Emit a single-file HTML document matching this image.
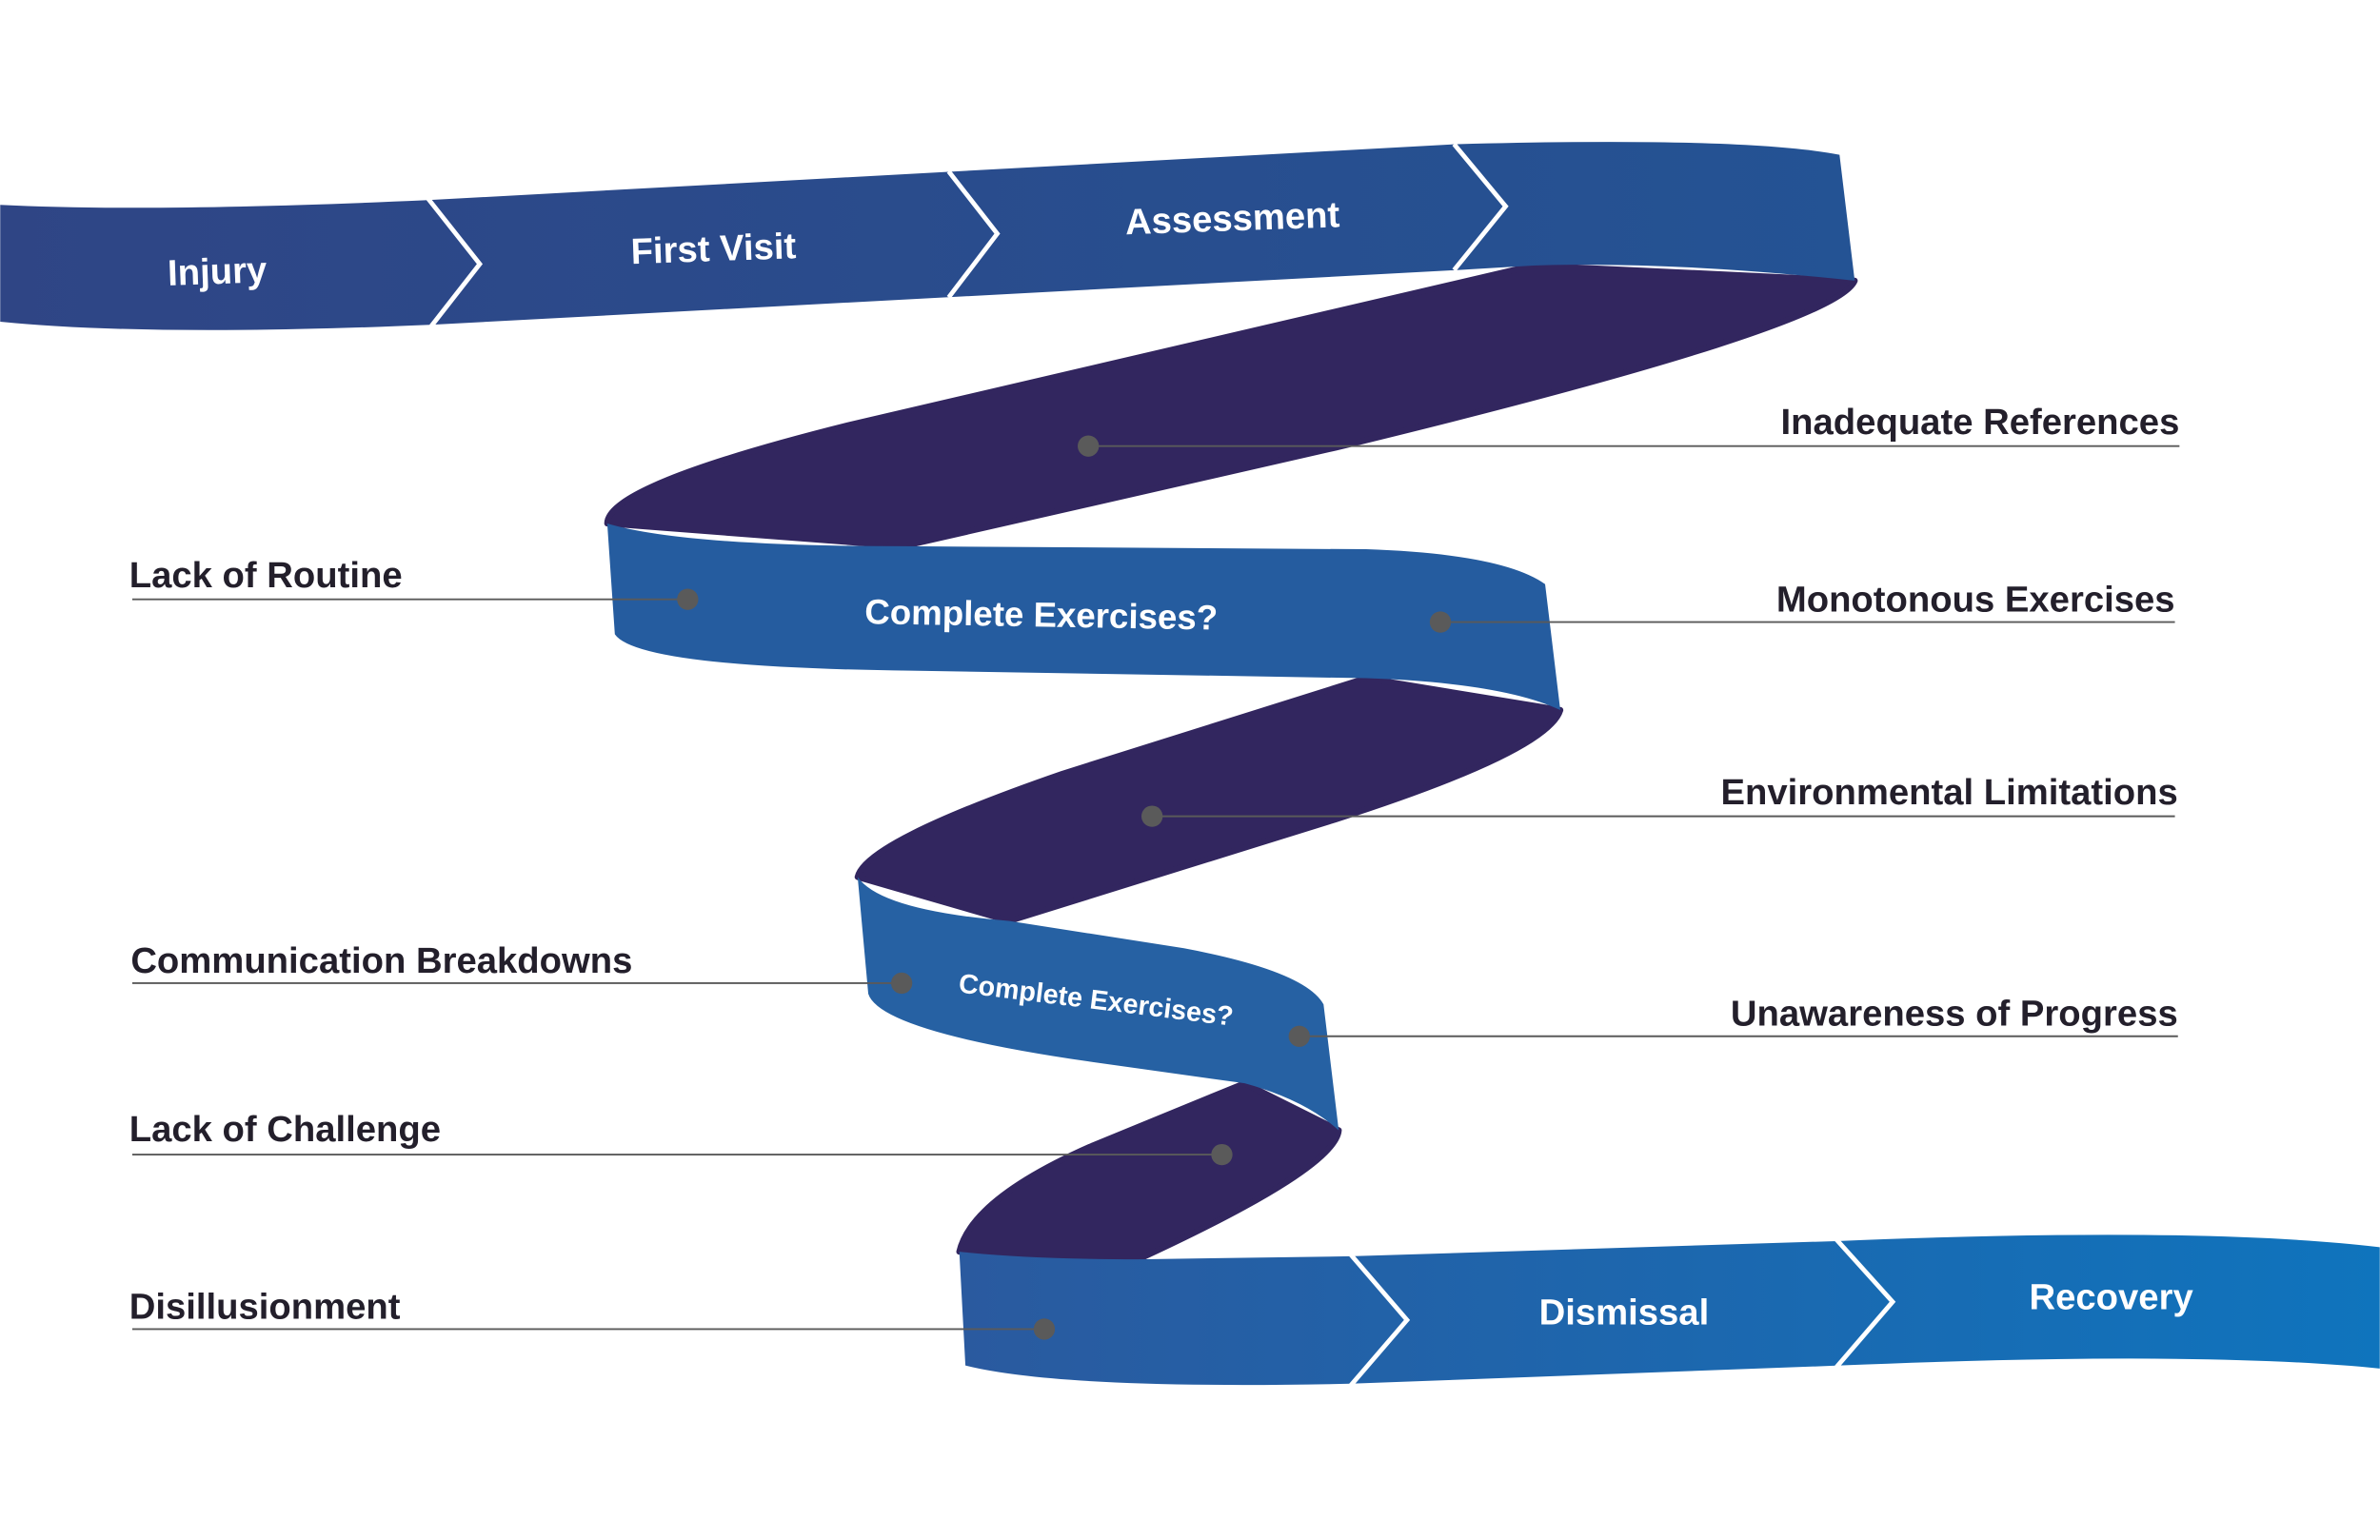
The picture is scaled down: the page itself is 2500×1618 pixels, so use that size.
<!DOCTYPE html>
<html><head><meta charset="utf-8"><style>
html,body{margin:0;padding:0;background:#fff;}
svg{display:block;}
text{font-family:"Liberation Sans",sans-serif;}
.lbl{font-size:24px;font-weight:bold;fill:#231f2b;}
.bt{font-size:24px;font-weight:bold;fill:#fff;}
</style></head><body>
<svg width="2500" height="1618" viewBox="0 0 1568 1015" xmlns="http://www.w3.org/2000/svg">
<defs>
<linearGradient id="g1" x1="0" x2="1" y1="0" y2="0"><stop offset="0" stop-color="#2f4585"/><stop offset="1" stop-color="#245394"/></linearGradient>
<linearGradient id="g2" x1="0" x2="1" y1="0" y2="0"><stop offset="0" stop-color="#2a5a9f"/><stop offset="1" stop-color="#0f74bd"/></linearGradient>
</defs>
<rect width="1568" height="1015" fill="#fff"/>
<!-- dark ribbons -->
<g fill="#32265f" stroke="#32265f" stroke-width="4" stroke-linejoin="round">
<path d="M1010,175 L1222,185 Q1210,215 880,295 L595,360 L400,345 Q400,320 560,280 Z"/>
<path d="M900,447 L1028,468 Q1020,495 880,540 L665,607 L565,578 Q570,555 700,510 Z"/>
<path d="M820,714 L882,745 Q880,770 750,830 L632,825 Q640,790 720,755 Z"/>
</g>
<!-- top band -->
<path d="M0,135 Q100,140 280,132 L960,95 Q1150,90 1212,102 L1222,185 Q1100,172 1010,175 L960,178 L285,214 Q100,222 0,212 Z" fill="url(#g1)"/>
<g fill="none" stroke="#fff" stroke-width="3">
<path d="M282,131 L316,174 L284,215"/>
<path d="M625,113 L657,154 L625,196"/>
<path d="M958,95 L992,136 L958,178"/>
</g>
<!-- middle bands -->
<path d="M400,345 Q450,360 595,360 L900,362 Q990,365 1018,385 L1028,468 Q990,450 900,447 L600,442 Q420,440 405,418 Z" fill="#255c9f"/>
<path d="M565,578 Q580,600 665,607 L780,625 Q860,640 872,662 L882,745 Q860,725 820,714 L720,700 Q580,680 572,655 Z" fill="#2661a3"/>
<!-- bottom band -->
<path d="M632,825 Q680,830 750,830 L890,828 L1210,818 Q1450,808 1568,822 L1568,902 Q1450,890 1212,900 L890,912 Q700,916 636,900 Z" fill="url(#g2)"/>
<g fill="none" stroke="#fff" stroke-width="3">
<path d="M890,827 L927,870 L890,913"/>
<path d="M1210,817 L1247,858 L1210,901"/>
</g>
<!-- band texts -->
<text class="bt" x="143" y="187" text-anchor="middle" transform="rotate(-2 143 180)">Injury</text>
<text class="bt" x="470" y="172" text-anchor="middle" transform="rotate(-2 470 165)">First Visit</text>
<text class="bt" x="812" y="152" text-anchor="middle" transform="rotate(-2 812 145)">Assessment</text>
<text class="bt" x="686" y="413" text-anchor="middle" transform="rotate(1 686 405)" style="font-size:23px">Complete Exercises?</text>
<text class="bt" x="722" y="665" text-anchor="middle" style="font-size:18px" transform="rotate(7 722 660)">Complete Exercises?</text>
<text class="bt" x="1070" y="873" text-anchor="middle">Dismissal</text>
<text class="bt" x="1391" y="863" text-anchor="middle">Recovery</text>
<!-- leader lines -->
<g stroke="#5a5a5a" stroke-width="1.2">
<line x1="717" y1="294" x2="1436" y2="294"/>
<line x1="87" y1="395" x2="453" y2="395"/>
<line x1="949" y1="410" x2="1433" y2="410"/>
<line x1="759" y1="538" x2="1433" y2="538"/>
<line x1="87" y1="648" x2="594" y2="648"/>
<line x1="856" y1="683" x2="1435" y2="683"/>
<line x1="87" y1="761" x2="805" y2="761"/>
<line x1="87" y1="876" x2="688" y2="876"/>
</g>
<g fill="#5a5a5a">
<circle cx="717" cy="294" r="7"/><circle cx="453" cy="395" r="7"/><circle cx="949" cy="410" r="7"/>
<circle cx="759" cy="538" r="7"/><circle cx="594" cy="648" r="7"/><circle cx="856" cy="683" r="7"/>
<circle cx="805" cy="761" r="7"/><circle cx="688" cy="876" r="7"/>
</g>
<!-- labels -->
<text class="lbl" x="1436" y="286" text-anchor="end">Inadequate References</text>
<text class="lbl" x="85" y="387">Lack of Routine</text>
<text class="lbl" x="1433" y="403" text-anchor="end">Monotonous Exercises</text>
<text class="lbl" x="1435" y="530" text-anchor="end">Environmental Limitations</text>
<text class="lbl" x="86" y="641">Communication Breakdowns</text>
<text class="lbl" x="1435" y="676" text-anchor="end">Unawareness of Progress</text>
<text class="lbl" x="85" y="752">Lack of Challenge</text>
<text class="lbl" x="85" y="869">Disillusionment</text>
</svg>
</body></html>
